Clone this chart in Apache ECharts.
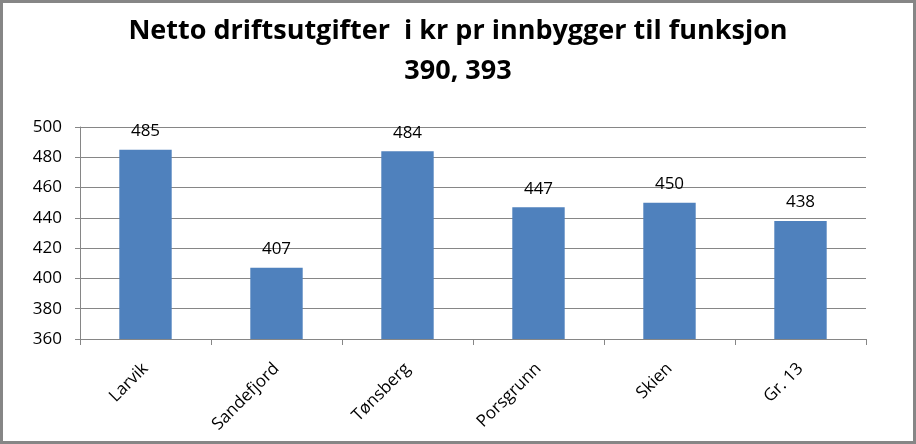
<!DOCTYPE html>
<html><head><meta charset="utf-8">
<script src="https://cdn.jsdelivr.net/npm/echarts@6/dist/echarts.min.js"></script>
<style>html,body{margin:0;padding:0;background:#fff}#c{width:916px;height:444px;box-sizing:border-box;border:3px solid #868686}</style>
</head><body><div id="c"></div>
<script>
const categories = ["Larvik", "Sandefjord", "Tønsberg", "Porsgrunn", "Skien", "Gr. 13"];
const values = [485, 407, 484, 447, 450, 438];
const titleText = "Netto driftsutgifter  i kr pr innbygger til funksjon\n390, 393";
const chart = echarts.init(document.getElementById('c'), null, {renderer: 'canvas'});
chart.setOption({
  animation: false,
  title: {
    text: titleText, left: 'center', top: 3,
    textStyle: {fontFamily: 'Open Sans', fontWeight: 'bold', fontSize: 27, color: '#000', lineHeight: 40}
  },
  grid: {left: 77, right: 47, top: 124, bottom: 102, containLabel: false},
  xAxis: {
    type: 'category', data: categories,
    axisLine: {lineStyle: {color: '#868686', width: 1}},
    axisTick: {show: true, alignWithLabel: false, length: 6, lineStyle: {color: '#868686'}},
    axisLabel: {rotate: 45, fontFamily: 'Open Sans', fontSize: 17, color: '#000', margin: 27, interval: 0}
  },
  yAxis: {
    type: 'value', min: 360, max: 500, interval: 20,
    axisLine: {show: true, lineStyle: {color: '#868686'}},
    axisTick: {show: true, length: 5, lineStyle: {color: '#868686'}},
    splitLine: {lineStyle: {color: '#868686', width: 1}},
    axisLabel: {fontFamily: 'Open Sans', fontSize: 17, color: '#000', margin: 18}
  },
  series: [{
    type: 'bar', data: values, barWidth: '40%',
    itemStyle: {color: '#4f81bd'},
    label: {show: true, position: 'top', distance: 10, fontFamily: 'Open Sans', fontSize: 17, color: '#000'}
  }]
});
</script></body></html>
